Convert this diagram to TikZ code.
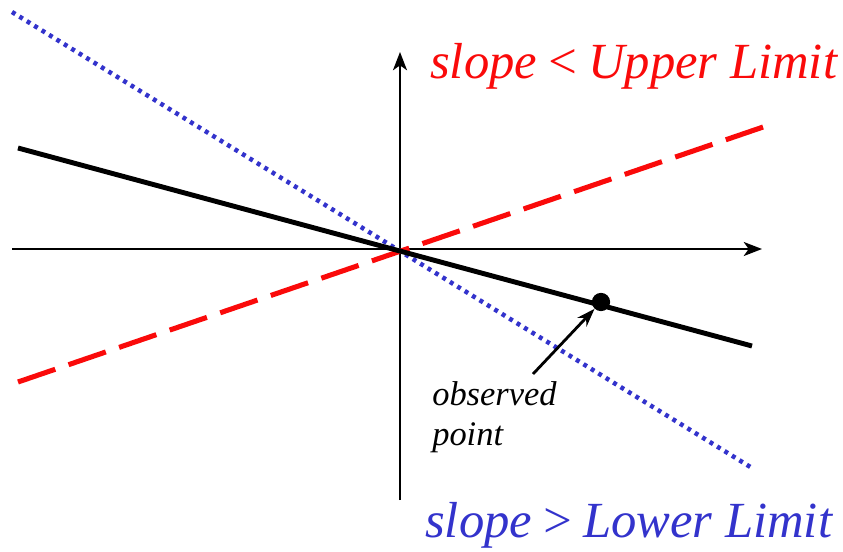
\documentclass[tikz,border=0pt]{standalone}
\usepackage{fontspec}
\setmainfont{Liberation Serif}
\usetikzlibrary{arrows.meta}
\definecolor{limred}{RGB}{250,10,10}
\definecolor{limblue}{RGB}{51,51,204}
\tikzset{
  axis/.style={line width=1.4pt,-{Stealth[length=13pt,width=10pt,inset=3.5pt]}},
  fitline/.style={line width=3.5pt},
  upperline/.style={line width=3.6pt,limred,dash pattern=on 28pt off 10pt},
  lowerline/.style={line width=3.2pt,limblue,dash pattern=on 2.8pt off 3.4pt},
  biglabel/.style={font=\fontsize{36}{42}\selectfont\itshape,anchor=base west,inner sep=0pt},
  smalllabel/.style={font=\fontsize{24.5}{28}\selectfont\itshape,align=left,anchor=base west,inner sep=0pt}
}
\begin{document}
\begin{tikzpicture}[x=0.025cm,y=-0.025cm]
\useasboundingbox (0,0) rectangle (843,552);
% axes
\coordinate (o) at (400,249);
\coordinate (xl) at (12,249);
\coordinate (xr) at (762,249);
\coordinate (yb) at (400,500);
\coordinate (yt) at (400,52);
\draw[axis] (xl) -- (xr);
\draw[axis] (yb) -- (yt);
% limits
\coordinate (ua) at (18,382);
\coordinate (ub) at (769,125);
\coordinate (la) at (12,12);
\coordinate (lb) at (752,468);
\draw[lowerline] (la) -- (lb);
\draw[upperline] (ua) -- (ub);
% fitted line and data point
\coordinate (fa) at (18,148);
\coordinate (fb) at (752,346);
\draw[fitline] (fa) -- (fb);
\node[circle,fill=black,inner sep=0pt,minimum size=13pt] (dot) at (601,302) {};
\node[smalllabel] (obs) at (432,445) {observed\\point};
\coordinate (tail) at (533,374);
\draw[line width=2pt,-{Stealth[length=13pt,width=9pt]}] (tail) -- (dot);
% labels
\node[biglabel,limred] (up) at (430,78) {slope\,<\,Upper Limit};
\node[biglabel,limblue] (low) at (425,537) {slope\,>\,Lower Limit};
\end{tikzpicture}
\end{document}
